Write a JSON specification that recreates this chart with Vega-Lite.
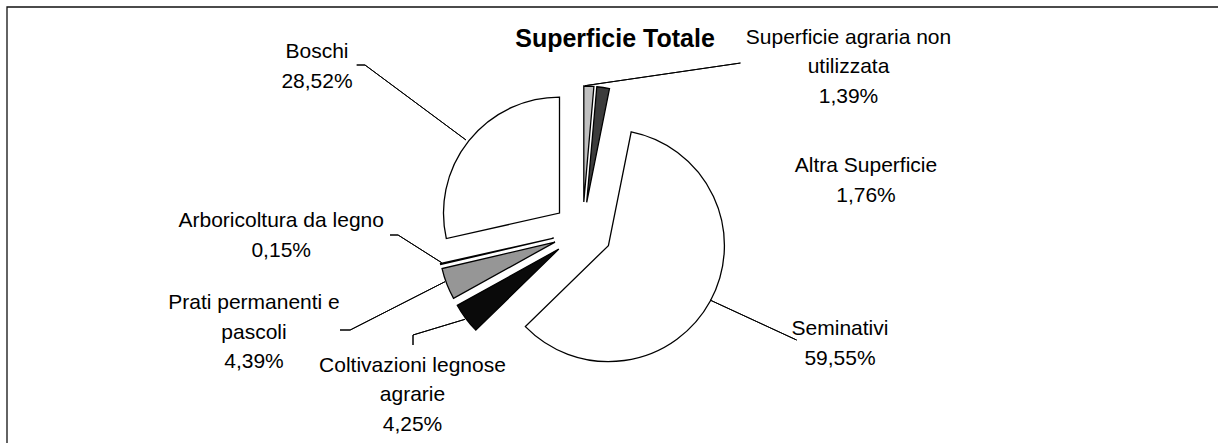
{
  "$schema": "https://vega.github.io/schema/vega-lite/v6.json",
  "width": 1211,
  "height": 436,
  "autosize": {"type": "none"},
  "padding": {"left": 7, "top": 7, "right": 0, "bottom": 0},
  "background": "white",
  "config": {"view": {"stroke": null}, "font": "Liberation Sans"},
  "data": {"values": [
    {"order": 1, "name": "Superficie agraria non utilizzata", "value": 1.39, "label": "Superficie agraria non\nutilizzata\n1,39%"},
    {"order": 2, "name": "Altra Superficie", "value": 1.76, "label": "Altra Superficie\n1,76%"},
    {"order": 3, "name": "Seminativi", "value": 59.55, "label": "Seminativi\n59,55%"},
    {"order": 4, "name": "Coltivazioni legnose agrarie", "value": 4.25, "label": "Coltivazioni legnose\nagrarie\n4,25%"},
    {"order": 5, "name": "Prati permanenti e pascoli", "value": 4.39, "label": "Prati permanenti e\npascoli\n4,39%"},
    {"order": 6, "name": "Arboricoltura da legno", "value": 0.15, "label": "Arboricoltura da legno\n0,15%"},
    {"order": 7, "name": "Boschi", "value": 28.52, "label": "Boschi\n28,52%"}
  ]},
  "transform": [
    {"stack": "value", "groupby": [], "sort": [{"field": "order", "order": "ascending"}], "as": ["start", "end"]}
  ],
  "encoding": {
    "x": {"datum": 0, "type": "quantitative", "scale": {"domain": [-1, 1], "nice": false, "zero": false}, "axis": null},
    "y": {"datum": 0, "type": "quantitative", "scale": {"domain": [-1, 1], "nice": false, "zero": false}, "axis": null}
  },
  "layer": [
    {
      "transform": [{"filter": "datum.order == 1"}],
      "mark": {"type": "rect", "filled": false, "stroke": "#111111", "strokeWidth": 1.3},
      "encoding": {
        "x": {"datum": -1, "type": "quantitative"},
        "x2": {"datum": 1.05},
        "y": {"datum": 1, "type": "quantitative"},
        "y2": {"datum": -1.05}
      }
    },
    {
      "transform": [{"filter": "datum.order == 1"}],
      "mark": {"type": "arc", "radius": 116, "stroke": "black", "strokeWidth": 1.3, "xOffset": -28.7, "yOffset": -23.0},
      "encoding": {
        "theta": {"field": "start", "type": "quantitative", "scale": {"domain": [0, 100.01]}},
        "theta2": {"field": "end"},
        "color": {"field": "name", "type": "nominal", "legend": null, "scale": {"domain": ["Superficie agraria non utilizzata", "Altra Superficie", "Seminativi", "Coltivazioni legnose agrarie", "Prati permanenti e pascoli", "Arboricoltura da legno", "Boschi"], "range": ["#c0c0c0", "#3c3c3c", "#ffffff", "#0a0a0a", "#969696", "#e0e0e0", "#ffffff"]}}
      }
    },
    {
      "transform": [{"filter": "datum.order == 2"}],
      "mark": {"type": "arc", "radius": 116, "stroke": "black", "strokeWidth": 1.3, "xOffset": -25.8, "yOffset": -22.7},
      "encoding": {
        "theta": {"field": "start", "type": "quantitative", "scale": {"domain": [0, 100.01]}},
        "theta2": {"field": "end"},
        "color": {"field": "name", "type": "nominal", "legend": null}
      }
    },
    {
      "transform": [{"filter": "datum.order == 3"}],
      "mark": {"type": "arc", "radius": 116, "stroke": "black", "strokeWidth": 1.3, "xOffset": -4.1, "yOffset": 20.6},
      "encoding": {
        "theta": {"field": "start", "type": "quantitative", "scale": {"domain": [0, 100.01]}},
        "theta2": {"field": "end"},
        "color": {"field": "name", "type": "nominal", "legend": null}
      }
    },
    {
      "transform": [{"filter": "datum.order == 4"}],
      "mark": {"type": "arc", "radius": 116, "stroke": "black", "strokeWidth": 1.3, "xOffset": -53.7, "yOffset": 24.1},
      "encoding": {
        "theta": {"field": "start", "type": "quantitative", "scale": {"domain": [0, 100.01]}},
        "theta2": {"field": "end"},
        "color": {"field": "name", "type": "nominal", "legend": null}
      }
    },
    {
      "transform": [{"filter": "datum.order == 5"}],
      "mark": {"type": "arc", "radius": 116, "stroke": "black", "strokeWidth": 1.3, "xOffset": -57.5, "yOffset": 17.1},
      "encoding": {
        "theta": {"field": "start", "type": "quantitative", "scale": {"domain": [0, 100.01]}},
        "theta2": {"field": "end"},
        "color": {"field": "name", "type": "nominal", "legend": null}
      }
    },
    {
      "transform": [{"filter": "datum.order == 6"}],
      "mark": {"type": "arc", "radius": 116, "stroke": "black", "strokeWidth": 1.3, "xOffset": -58.8, "yOffset": 13.1},
      "encoding": {
        "theta": {"field": "start", "type": "quantitative", "scale": {"domain": [0, 100.01]}},
        "theta2": {"field": "end"},
        "color": {"field": "name", "type": "nominal", "legend": null}
      }
    },
    {
      "transform": [{"filter": "datum.order == 7"}],
      "mark": {"type": "arc", "radius": 116, "stroke": "black", "strokeWidth": 1.3, "xOffset": -53.0, "yOffset": -11.9},
      "encoding": {
        "theta": {"field": "start", "type": "quantitative", "scale": {"domain": [0, 100.01]}},
        "theta2": {"field": "end"},
        "color": {"field": "name", "type": "nominal", "legend": null}
      }
    },
    {
      "transform": [{"filter": "datum.order == 1"}],
      "mark": {"type": "arc", "radius": 157.1, "filled": false, "stroke": "black", "strokeWidth": 1, "thetaOffset": 1.4259, "theta2Offset": 1.4259, "xOffset": -27.5, "yOffset": -139.3},
      "encoding": {
        "theta": {"field": "start", "type": "quantitative", "scale": {"domain": [0, 100.01]}},
        "theta2": {"field": "start"}
      }
    },
    {
      "transform": [{"filter": "datum.order == 7"}],
      "mark": {"type": "arc", "radius": 125.8, "filled": false, "stroke": "black", "strokeWidth": 1, "thetaOffset": 0.8597, "theta2Offset": 0.8597, "xOffset": -146.5, "yOffset": -85},
      "encoding": {
        "theta": {"field": "start", "type": "quantitative", "scale": {"domain": [0, 100.01]}},
        "theta2": {"field": "start"}
      }
    },
    {
      "transform": [{"filter": "datum.order == 7"}],
      "mark": {"type": "arc", "radius": 8.3, "filled": false, "stroke": "black", "strokeWidth": 1, "thetaOffset": 0.2210, "theta2Offset": 0.2210, "xOffset": -247.5, "yOffset": -160},
      "encoding": {
        "theta": {"field": "start", "type": "quantitative", "scale": {"domain": [0, 100.01]}},
        "theta2": {"field": "start"}
      }
    },
    {
      "transform": [{"filter": "datum.order == 6"}],
      "mark": {"type": "arc", "radius": 51.7, "filled": false, "stroke": "black", "strokeWidth": 1, "thetaOffset": 0.7959, "theta2Offset": 0.7959, "xOffset": -170.8, "yOffset": 37.7},
      "encoding": {
        "theta": {"field": "start", "type": "quantitative", "scale": {"domain": [0, 100.01]}},
        "theta2": {"field": "start"}
      }
    },
    {
      "transform": [{"filter": "datum.order == 6"}],
      "mark": {"type": "arc", "radius": 8, "filled": false, "stroke": "black", "strokeWidth": 1, "thetaOffset": 0.2304, "theta2Offset": 0.2304, "xOffset": -214.5, "yOffset": 10},
      "encoding": {
        "theta": {"field": "start", "type": "quantitative", "scale": {"domain": [0, 100.01]}},
        "theta2": {"field": "start"}
      }
    },
    {
      "transform": [{"filter": "datum.order == 5"}],
      "mark": {"type": "arc", "radius": 106.6, "filled": false, "stroke": "black", "strokeWidth": 1, "thetaOffset": 0.0349, "theta2Offset": 0.0349, "xOffset": -167.5, "yOffset": 56.7},
      "encoding": {
        "theta": {"field": "start", "type": "quantitative", "scale": {"domain": [0, 100.01]}},
        "theta2": {"field": "start"}
      }
    },
    {
      "transform": [{"filter": "datum.order == 5"}],
      "mark": {"type": "arc", "radius": 10, "filled": false, "stroke": "black", "strokeWidth": 1, "thetaOffset": 0.5061, "theta2Offset": 0.5061, "xOffset": -262.5, "yOffset": 105},
      "encoding": {
        "theta": {"field": "start", "type": "quantitative", "scale": {"domain": [0, 100.01]}},
        "theta2": {"field": "start"}
      }
    },
    {
      "transform": [{"filter": "datum.order == 4"}],
      "mark": {"type": "arc", "radius": 54.3, "filled": false, "stroke": "black", "strokeWidth": 1, "thetaOffset": 0.4800, "theta2Offset": 0.4800, "xOffset": -147.5, "yOffset": 94.3},
      "encoding": {
        "theta": {"field": "start", "type": "quantitative", "scale": {"domain": [0, 100.01]}},
        "theta2": {"field": "start"}
      }
    },
    {
      "transform": [{"filter": "datum.order == 4"}],
      "mark": {"type": "arc", "radius": 10, "filled": false, "stroke": "black", "strokeWidth": 1, "thetaOffset": -0.7976, "theta2Offset": -0.7976, "xOffset": -199.5, "yOffset": 110},
      "encoding": {
        "theta": {"field": "start", "type": "quantitative", "scale": {"domain": [0, 100.01]}},
        "theta2": {"field": "start"}
      }
    },
    {
      "transform": [{"filter": "datum.order == 3"}],
      "mark": {"type": "arc", "radius": 95.5, "filled": false, "stroke": "black", "strokeWidth": 1, "thetaOffset": 1.8057, "theta2Offset": 1.8057, "xOffset": 97.5, "yOffset": 75},
      "encoding": {
        "theta": {"field": "start", "type": "quantitative", "scale": {"domain": [0, 100.01]}},
        "theta2": {"field": "start"}
      }
    },
    {
      "transform": [{"filter": "datum.order == 1"}],
      "mark": {"type": "text", "align": "center", "baseline": "alphabetic", "fontSize": 25, "fontWeight": "bold", "font": "Liberation Sans", "color": "black", "dx": 2.5, "dy": -178.3},
      "encoding": {"text": {"value": "Superficie Totale"}}
    },
    {
      "transform": [{"filter": "datum.order == 1"}],
      "mark": {"type": "text", "align": "center", "baseline": "alphabetic", "fontSize": 21, "lineHeight": 29.5, "lineBreak": "\n", "font": "Liberation Sans", "color": "black", "dx": 236, "dy": -181.5},
      "encoding": {"text": {"field": "label"}}
    },
    {
      "transform": [{"filter": "datum.order == 2"}],
      "mark": {"type": "text", "align": "center", "baseline": "alphabetic", "fontSize": 21, "lineHeight": 30, "lineBreak": "\n", "font": "Liberation Sans", "color": "black", "dx": 253.5, "dy": -52.7},
      "encoding": {"text": {"field": "label"}}
    },
    {
      "transform": [{"filter": "datum.order == 3"}],
      "mark": {"type": "text", "align": "center", "baseline": "alphabetic", "fontSize": 21, "lineHeight": 29.5, "lineBreak": "\n", "font": "Liberation Sans", "color": "black", "dx": 227.5, "dy": 110},
      "encoding": {"text": {"field": "label"}}
    },
    {
      "transform": [{"filter": "datum.order == 4"}],
      "mark": {"type": "text", "align": "center", "baseline": "alphabetic", "fontSize": 21, "lineHeight": 29.5, "lineBreak": "\n", "font": "Liberation Sans", "color": "black", "dx": -200, "dy": 146.7},
      "encoding": {"text": {"field": "label"}}
    },
    {
      "transform": [{"filter": "datum.order == 5"}],
      "mark": {"type": "text", "align": "center", "baseline": "alphabetic", "fontSize": 21, "lineHeight": 29.5, "lineBreak": "\n", "font": "Liberation Sans", "color": "black", "dx": -358.5, "dy": 84.3},
      "encoding": {"text": {"field": "label"}}
    },
    {
      "transform": [{"filter": "datum.order == 6"}],
      "mark": {"type": "text", "align": "center", "baseline": "alphabetic", "fontSize": 21, "lineHeight": 30, "lineBreak": "\n", "font": "Liberation Sans", "color": "black", "dx": -331.3, "dy": 2.3},
      "encoding": {"text": {"field": "label"}}
    },
    {
      "transform": [{"filter": "datum.order == 7"}],
      "mark": {"type": "text", "align": "center", "baseline": "alphabetic", "fontSize": 21, "lineHeight": 30, "lineBreak": "\n", "font": "Liberation Sans", "color": "black", "dx": -295.5, "dy": -166.7},
      "encoding": {"text": {"field": "label"}}
    }
  ]
}
